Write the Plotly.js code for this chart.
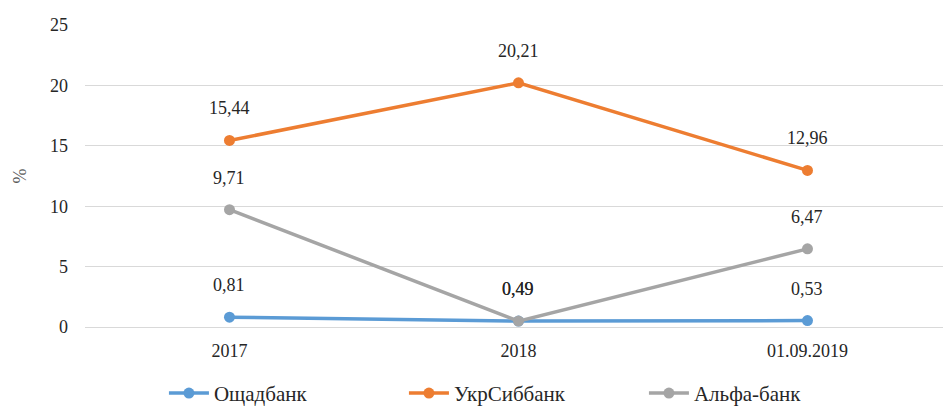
<!DOCTYPE html>
<html>
<head>
<meta charset="utf-8">
<script src="https://cdn.plot.ly/plotly-3.0.1.min.js"></script>
<style>html,body{margin:0;padding:0;background:#fff;}#chart{width:943px;height:414px;}</style>
</head>
<body>
<div id="chart"></div>
<script>
var categories = ["2017", "2018", "01.09.2019"];
var seriesNames = ["Ощадбанк", "УкрСиббанк", "Альфа-банк"];
var oschad = [0.81, 0.49, 0.53];
var ukrsib = [15.44, 20.21, 12.96];
var alfa = [9.71, 0.49, 6.47];
var yTicks = [0, 5, 10, 15, 20, 25];
var colors = ["#5B9BD5", "#ED7D31", "#A5A5A5"];
var allSeries = [oschad, ukrsib, alfa];
var FONT = "Liberation Serif, Times New Roman, serif";

var traces = allSeries.map(function (vals, i) {
  return {
    x: categories, y: vals, name: seriesNames[i], type: "scatter", mode: "lines+markers",
    line: {color: colors[i], width: 3.5},
    marker: {color: colors[i], size: 11},
    hoverinfo: "none"
  };
});
var annotations = [];
allSeries.forEach(function (vals) {
  vals.forEach(function (v, j) {
    annotations.push({
      x: j, y: v, xref: "x", yref: "y",
      text: v.toFixed(2).replace(".", ","), showarrow: false,
      yshift: 32, font: {family: FONT, size: 18, color: "#262626"}
    });
  });
});

var layout = {
  width: 943, height: 414,
  margin: {l: 85, r: 0, t: 25, b: 87},
  paper_bgcolor: "#fff", plot_bgcolor: "#fff",
  font: {family: FONT, size: 18, color: "#262626"},
  xaxis: {
    type: "category", range: [-0.5, 2.469], showgrid: false, zeroline: false,
    showline: false, ticks: "", tickfont: {family: FONT, size: 18, color: "#262626"},
    ticklabelstandoff: 11, fixedrange: true
  },
  yaxis: {
    range: [0, 25], tickvals: yTicks, ticktext: yTicks.map(String),
    showgrid: true, gridcolor: "#d9d9d9", gridwidth: 1, zeroline: true, zerolinecolor: "#d9d9d9",
    showline: false, ticks: "", ticklen: 0, ticklabelstandoff: 16,
    tickfont: {family: FONT, size: 18, color: "#262626"},
    title: {text: "%", font: {family: FONT, size: 18, color: "#595959"}, standoff: 18},
    automargin: false
  },
  showlegend: true,
  legend: {
    orientation: "h", x: 0.092, xanchor: "left", y: -0.22, yanchor: "middle",
    font: {family: FONT, size: 21, color: "#262626"},
    itemwidth: 40, entrywidth: 185, entrywidthmode: "pixels", traceorder: "normal"
  },
  annotations: annotations
};

Plotly.newPlot("chart", traces, layout, {staticPlot: true, displayModeBar: false});
</script>
</body>
</html>
